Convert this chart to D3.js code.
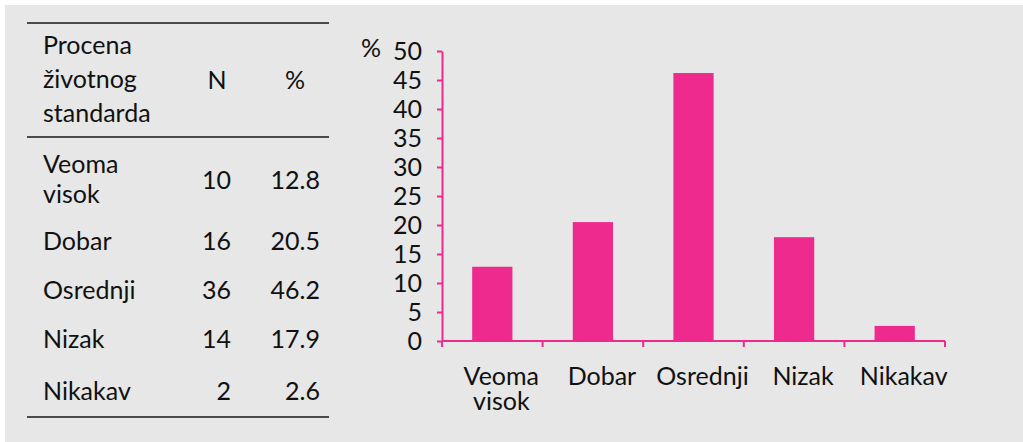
<!DOCTYPE html>
<meta charset="utf-8">
<style>
body { margin: 0; background: #fff; }
svg text { font-family: Lato, "Open Sans", sans-serif; font-size: 25px; fill: #111; }
</style>
<svg id="chart" width="1023" height="442"></svg>
<script src="https://cdn.jsdelivr.net/npm/d3@7"></script>
<script>
// values
var categories = ["Veoma visok", "Dobar", "Osrednji", "Nizak", "Nikakav"];
var counts = [10, 16, 36, 14, 2];
var percents = [12.8, 20.5, 46.2, 17.9, 2.6];
var yTicks = [0, 5, 10, 15, 20, 25, 30, 35, 40, 45, 50];
var headerLines = ["Procena", "životnog", "standarda"];

var pink = "#ee2a8e";

var svg = d3.select("#chart");

svg.append("rect")
    .attr("x", 5).attr("y", 5)
    .attr("width", 1018).attr("height", 437)
    .attr("fill", "#e6e7e6");

// ---- table on the left ----
var table = svg.append("g");
var ruleX = [27, 329];
[23, 137, 417].forEach(function(y) {
  table.append("line")
      .attr("x1", ruleX[0]).attr("x2", ruleX[1])
      .attr("y1", y).attr("y2", y)
      .attr("stroke", "#4a4a4a").attr("stroke-width", 2);
});

table.selectAll("text.head")
    .data(headerLines)
    .enter().append("text")
      .attr("class", "head")
      .attr("x", 43)
      .attr("y", function(d, i) { return 54 + i * 34; })
      .text(function(d) { return d; });

table.append("text").attr("x", 217).attr("y", 89)
    .attr("text-anchor", "middle").text("N");
table.append("text").attr("x", 295).attr("y", 89)
    .attr("text-anchor", "middle").text("%");

var rowY = [189, 250, 299, 348, 400];

var rows = table.selectAll("g.row")
    .data(categories)
    .enter().append("g")
      .attr("class", "row")
      .attr("transform", function(d, i) { return "translate(0," + rowY[i] + ")"; });

rows.append("text")
    .attr("x", 43)
    .each(function(d) {
      var parts = d.split(" ");
      var t = d3.select(this);
      parts.forEach(function(p, j) {
        t.append("tspan")
            .attr("x", 43)
            .attr("y", parts.length > 1 ? (j === 0 ? -16 : 14) : 0)
            .text(p);
      });
    });

rows.append("text")
    .attr("x", 231).attr("text-anchor", "end")
    .text(function(d, i) { return counts[i]; });

rows.append("text")
    .attr("x", 320).attr("text-anchor", "end")
    .text(function(d, i) { return percents[i].toFixed(1); });

// ---- bar chart ----
var x = d3.scaleBand()
    .domain(categories)
    .range([442, 945])
    .paddingInner(0.6)
    .paddingOuter(0.3);

var y = d3.scaleLinear()
    .domain([0, 50])
    .range([341, 51]);

var chart = svg.append("g");

chart.selectAll("rect.bar")
    .data(categories)
    .enter().append("rect")
      .attr("class", "bar")
      .attr("x", function(d) { return x(d); })
      .attr("width", x.bandwidth())
      .attr("y", function(d, i) { return y(percents[i]); })
      .attr("height", function(d, i) { return y(0) - y(percents[i]); })
      .attr("fill", pink);

var yAxis = chart.append("g")
    .attr("transform", "translate(442,0)")
    .call(d3.axisLeft(y).tickValues(yTicks).tickSize(5).tickPadding(15).tickSizeOuter(0));

var xEdges = categories.map(function(d) { return x(d) - x.step() * 0.3; }).concat([945]);
var xAxis = chart.append("g")
    .attr("transform", "translate(0,341)");
xAxis.append("line")
    .attr("x1", 442).attr("x2", 945);
xAxis.selectAll("line.tk")
    .data(xEdges)
    .enter().append("line")
      .attr("class", "tk")
      .attr("x1", function(d) { return d; }).attr("x2", function(d) { return d; })
      .attr("y1", 0).attr("y2", 6);
xAxis.selectAll("line").attr("stroke", pink).attr("stroke-width", 2);

xAxis.selectAll("text")
    .data(categories)
    .enter().append("text")
      .attr("text-anchor", "middle")
      .each(function(d) {
        var parts = d.split(" ");
        var t = d3.select(this);
        var cx = x(d) + x.bandwidth() / 2 + 9;
        parts.forEach(function(p, j) {
          t.append("tspan").attr("x", cx).attr("y", 44 + j * 25).text(p);
        });
      });

yAxis.select(".domain").attr("stroke", pink).attr("stroke-width", 2);
yAxis.selectAll(".tick line").attr("stroke", pink).attr("stroke-width", 2);
yAxis.selectAll(".tick text")
    .attr("font-family", null).attr("font-size", null)
    .attr("fill", "#111");

chart.append("text")
    .attr("x", 361).attr("y", 57)
    .text("%");
</script>
